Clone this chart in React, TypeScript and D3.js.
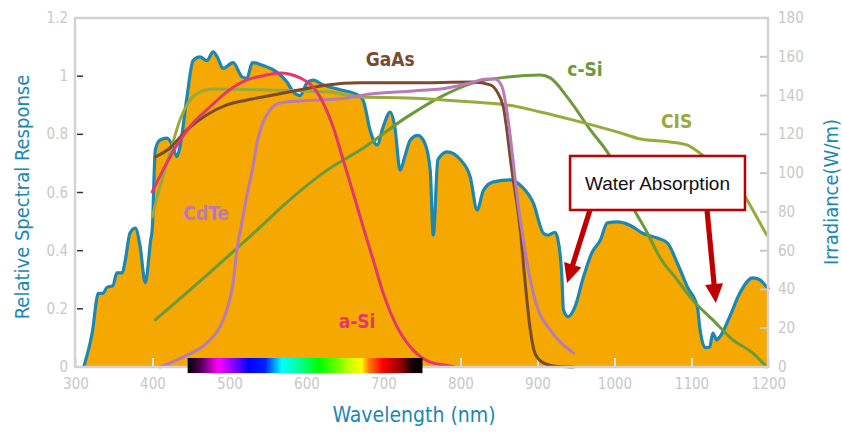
import React from "react";
import * as d3 from "d3";

// ---- data ----
const xTicks = [300, 400, 500, 600, 700, 800, 900, 1000, 1100, 1200];
const leftTicks = [0, 0.2, 0.4, 0.6, 0.8, 1, 1.2];
const leftTickLabels = ["0", "0.2", "0.4", "0.6", "0.8", "1", "1.2"];
const rightTicks = [0, 20, 40, 60, 80, 100, 120, 140, 160, 180];

// solar irradiance (W/m), right axis
const irrWl = [310, 321, 329, 335, 340, 348, 353, 360, 364, 370, 377, 383, 390, 397, 399, 403, 409, 418, 425, 431, 435, 444, 452, 461, 470, 478, 484, 491, 504, 516, 522, 529, 543, 561, 574, 582, 591, 600, 608, 621, 643, 665, 673, 682, 691, 699, 708, 714, 721, 727, 734, 744, 753, 760, 764, 770, 782, 799, 812, 821, 829, 842, 864, 879, 894, 907, 913, 922, 926, 931, 933, 939, 948, 958, 970, 981, 990, 1003, 1020, 1036, 1055, 1068, 1081, 1094, 1107, 1110, 1117, 1123, 1127, 1132, 1136, 1149, 1162, 1179, 1188, 1197, 1200];
const irrVal = [0, 17.5, 38, 38, 41, 42, 48.5, 48.5, 55, 69, 71.7, 63, 43.5, 65.5, 71, 112, 117, 118, 114.5, 108.5, 113.5, 139, 158, 160, 158, 162.5, 159.5, 154, 157, 149.5, 149, 157, 155.5, 152, 147, 142, 140, 146.5, 148, 145.5, 143, 140.5, 137.5, 122, 114.5, 124, 131.5, 124, 101.5, 108.5, 117, 119.5, 115.5, 101.5, 68, 107, 111, 107, 98, 81, 91, 95.5, 96.5, 93, 84.5, 69, 68, 69.5, 65.5, 46.5, 29.5, 26, 31, 45, 59, 65.5, 74.3, 74.8, 73, 69, 66.5, 64, 53.5, 41.3, 31, 20.6, 10, 10.3, 17.5, 14, 15.5, 26, 38, 46, 45, 41.3, 40];

// relative spectral response, left axis
const gaasWl = [403, 422, 444, 470, 496, 522, 556, 591, 626, 669, 734, 816, 838, 847, 855, 866, 877, 883, 890, 896, 907, 922, 946];
const gaasVal = [0.722, 0.753, 0.815, 0.867, 0.901, 0.918, 0.935, 0.953, 0.97, 0.977, 0.977, 0.98, 0.97, 0.946, 0.894, 0.677, 0.471, 0.299, 0.127, 0.048, 0.014, 0.003, 0];

const asiWl = [399, 413, 431, 452, 474, 496, 522, 548, 565, 591, 608, 621, 634, 647, 660, 673, 686, 699, 717, 738, 760, 790];
const asiVal = [0.602, 0.677, 0.763, 0.839, 0.894, 0.946, 0.987, 1.004, 1.011, 0.994, 0.963, 0.908, 0.825, 0.712, 0.598, 0.481, 0.368, 0.254, 0.138, 0.058, 0.017, 0.003];

const cdteWl = [409, 439, 470, 487, 497, 504, 509, 516, 522, 529, 536, 543, 552, 565, 591, 643, 682, 738, 782, 812, 834, 844, 853, 860, 868, 874, 879, 890, 899, 916, 946];
const cdteVal = [0, 0.034, 0.083, 0.138, 0.206, 0.289, 0.402, 0.505, 0.591, 0.677, 0.781, 0.842, 0.884, 0.908, 0.915, 0.922, 0.939, 0.949, 0.959, 0.977, 0.99, 0.99, 0.966, 0.873, 0.702, 0.564, 0.471, 0.299, 0.206, 0.127, 0.048];

const csiWl = [403, 470, 535, 582, 626, 669, 730, 773, 816, 860, 903, 916, 938, 968, 994, 1023, 1042, 1058, 1081, 1101, 1127, 1153, 1179, 1197];
const csiVal = [0.162, 0.316, 0.471, 0.585, 0.677, 0.746, 0.86, 0.928, 0.977, 0.997, 1.004, 0.994, 0.928, 0.815, 0.722, 0.55, 0.461, 0.378, 0.299, 0.23, 0.162, 0.093, 0.048, 0];

const cisWl = [399, 409, 422, 435, 448, 461, 478, 539, 626, 669, 730, 816, 860, 903, 946, 1007, 1033, 1071, 1094, 1110, 1127, 1149, 1166, 1184, 1197];
const cisVal = [0.516, 0.619, 0.736, 0.849, 0.918, 0.946, 0.956, 0.953, 0.946, 0.928, 0.925, 0.911, 0.901, 0.877, 0.849, 0.805, 0.784, 0.774, 0.763, 0.736, 0.702, 0.653, 0.598, 0.516, 0.454];

const seriesNames = ["GaAs", "a-Si", "CdTe", "c-Si", "CIS"];
const seriesColors = ["#7a4b2c", "#e2386c", "#b97ab9", "#6a9a3c", "#99a93c"];
const labelWl = [708, 665, 469, 961, 1080];
const labelVal = [1.035, 0.134, 0.505, 1.0, 0.822];

// visible spectrum bar range (nm)
const spectrumRange = [445, 750];
const spectrumStops = [
  [0, "#000000"], [0.06, "#5a0060"], [0.13, "#ff00ff"], [0.2, "#8000ff"], [0.26, "#0000ff"],
  [0.33, "#0020ff"], [0.4, "#00ffff"], [0.47, "#00ffa0"], [0.56, "#00ff00"], [0.63, "#60ff00"],
  [0.69, "#c8ff00"], [0.74, "#ffff00"], [0.77, "#ff8000"], [0.83, "#ff0000"], [0.9, "#a00000"],
  [0.96, "#100000"], [1, "#000000"],
];

// annotation (data units: nm, response)
const boxWl = [941.6, 1168.8];
const boxVal = [0.7256, 0.54];
const arrowTail = [[967.5, 0.54], [1119.5, 0.54]];
const arrowTip = [[937.7, 0.289], [1131, 0.22]];

const W = 842, H = 434;
const x = d3.scaleLinear().domain([300, 1200]).range([76, 769]);
const yL = d3.scaleLinear().domain([0, 1.2]).range([367, 18]);
const yR = d3.scaleLinear().domain([0, 180]).range([367, 18]);

const blue = "#1b87b3";
const tickColor = "#c8c8c8";
const frame = "#d2d2d2";
const condensed = "'DejaVu Sans Condensed', 'Liberation Sans Narrow', Roboto, sans-serif";

function Arrow({ tail, tip }: { tail: number[]; tip: number[] }) {
  const x1 = x(tail[0]), y1 = yL(tail[1]), x2 = x(tip[0]), y2 = yL(tip[1]);
  const dx = x2 - x1, dy = y2 - y1;
  const len = Math.hypot(dx, dy);
  const ux = dx / len, uy = dy / len;
  const headLen = 19, headW = 9, shaftW = 2.6;
  const bx = x2 - ux * headLen, by = y2 - uy * headLen;
  const px = -uy, py = ux;
  const pts = [
    [x1 + px * shaftW, y1 + py * shaftW],
    [bx + px * shaftW, by + py * shaftW],
    [bx + px * headW, by + py * headW],
    [x2, y2],
    [bx - px * headW, by - py * headW],
    [bx - px * shaftW, by - py * shaftW],
    [x1 - px * shaftW, y1 - py * shaftW],
  ];
  return <polygon points={pts.map((p) => p.join(",")).join(" ")} fill="#c00000" />;
}

export default function App() {
  const irr = irrWl.map((w, i) => [w, irrVal[i]] as [number, number]);
  const area = d3
    .area<[number, number]>()
    .x((d) => x(d[0]))
    .y0(yR(0))
    .y1((d) => yR(d[1]))
    .curve(d3.curveMonotoneX);
  const irrLine = d3
    .line<[number, number]>()
    .x((d) => x(d[0]))
    .y((d) => yR(d[1]))
    .curve(d3.curveMonotoneX);
  const respLine = d3
    .line<[number, number]>()
    .x((d) => x(d[0]))
    .y((d) => yL(d[1]))
    .curve(d3.curveMonotoneX);

  const series = [
    [gaasWl, gaasVal],
    [asiWl, asiVal],
    [cdteWl, cdteVal],
    [csiWl, csiVal],
    [cisWl, cisVal],
  ].map(([w, v]) => w.map((wl, i) => [wl, v[i]] as [number, number]));
  const drawOrder = [3, 4, 0, 2, 1];

  return (
    <svg width={W} height={H} style={{ position: "absolute", left: 0, top: 0, background: "#fff" }}>
      <defs>
        <linearGradient id="spec" x1="0" x2="1" y1="0" y2="0">
          {spectrumStops.map(([o, c], i) => (
            <stop key={i} offset={o as number} stopColor={c as string} />
          ))}
        </linearGradient>
      </defs>

      {/* irradiance */}
      <path d={area(irr) || ""} fill="#f5a800" />
      <path d={irrLine(irr) || ""} fill="none" stroke={blue} strokeWidth={3.2} strokeLinejoin="round" />

      {/* x ticks (inside) */}
      {xTicks.map((t) => (
        <line key={t} x1={x(t)} x2={x(t)} y1={yL(0) - 9} y2={yL(0)} stroke="#e6e6e6" strokeWidth={2} />
      ))}

      {/* cell response curves */}
      {drawOrder.map((i) => (
        <path
          key={seriesNames[i]}
          d={respLine(series[i]) || ""}
          fill="none"
          stroke={seriesColors[i]}
          strokeWidth={3}
          strokeLinecap="round"
          strokeLinejoin="round"
        />
      ))}

      {/* frame */}
      <rect x={75} y={18} width={693} height={349} fill="none" stroke={frame} strokeWidth={2.5} />
      {/* left ticks */}
      {leftTicks.filter((t) => t > 0 && t < 1.2).map((t) => (
        <line key={t} x1={77} x2={83} y1={yL(t)} y2={yL(t)} stroke="#333" strokeWidth={1.5} />
      ))}
      {rightTicks.filter((t) => t > 0 && t < 180).map((t) => (
        <line key={t} x1={760} x2={767} y1={yR(t)} y2={yR(t)} stroke={tickColor} strokeWidth={2} />
      ))}

      {/* spectrum bar */}
      <rect
        x={x(spectrumRange[0])}
        y={yL(0.031)}
        width={x(spectrumRange[1]) - x(spectrumRange[0])}
        height={yL(-0.021) - yL(0.031)}
        fill="url(#spec)"
      />

      {/* tick labels */}
      <g fontFamily={condensed} fontSize={15} fill={tickColor}>
        {leftTicks.map((t, i) => (
          <text key={t} x={68} y={yL(t) + 5} textAnchor="end">
            {leftTickLabels[i]}
          </text>
        ))}
        {rightTicks.map((t) => (
          <text key={t} x={778} y={yR(t) + 5} textAnchor="start">
            {t}
          </text>
        ))}
        {xTicks.map((t) => (
          <text key={t} x={x(t)} y={389} textAnchor="middle">
            {t}
          </text>
        ))}
      </g>

      {/* axis titles */}
      <g fontFamily={condensed} fontSize={20} fill={blue}>
        <text transform={`translate(29,197) rotate(-90)`} textAnchor="middle">
          Relative Spectral Response
        </text>
        <text transform={`translate(838,192) rotate(-90)`} textAnchor="middle">
          Irradiance(W/m)
        </text>
        <text x={414} y={422} textAnchor="middle" fontSize={21}>
          Wavelength (nm)
        </text>
      </g>

      {/* series labels */}
      <g fontFamily={condensed} fontSize={19} fontWeight="bold">
        {seriesNames.map((n, i) => (
          <text key={n} x={x(labelWl[i])} y={yL(labelVal[i])} textAnchor="middle" fill={seriesColors[i]}>
            {n}
          </text>
        ))}
      </g>

      {/* water absorption annotation */}
      {arrowTail.map((t, i) => (
        <Arrow key={i} tail={t} tip={arrowTip[i]} />
      ))}
      <rect
        x={x(boxWl[0])}
        y={yL(boxVal[0])}
        width={x(boxWl[1]) - x(boxWl[0])}
        height={yL(boxVal[1]) - yL(boxVal[0])}
        fill="#fff"
        stroke="#c00000"
        strokeWidth={2.5}
      />
      <text
        x={(x(boxWl[0]) + x(boxWl[1])) / 2}
        y={(yL(boxVal[0]) + yL(boxVal[1])) / 2 + 7}
        textAnchor="middle"
        fontFamily="'Liberation Sans', Arial, sans-serif"
        fontSize={19}
        fill="#111"
      >
        Water Absorption
      </text>
    </svg>
  );
}
